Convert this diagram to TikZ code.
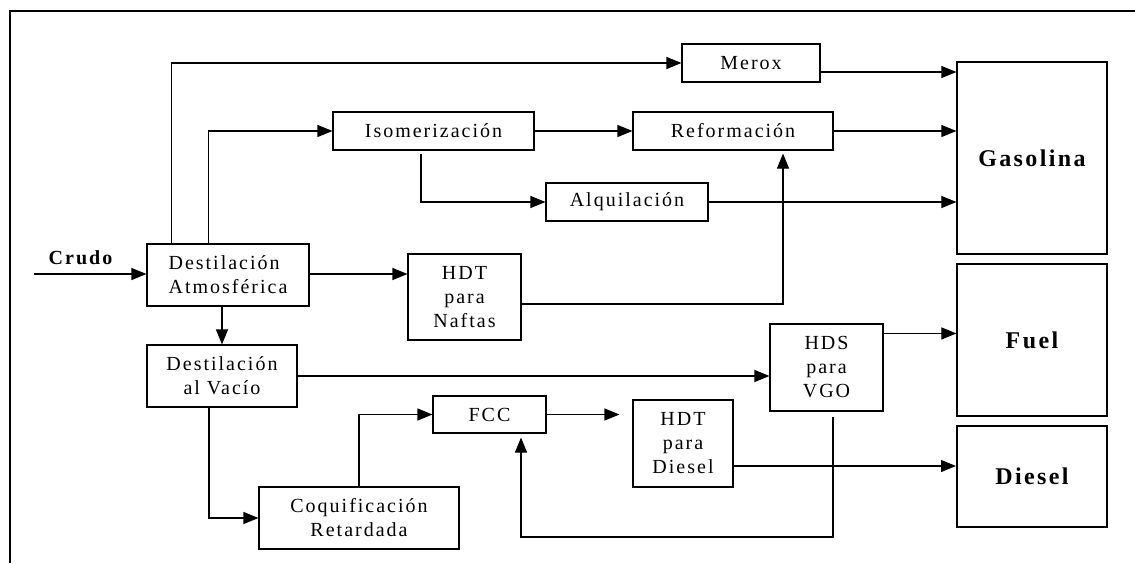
\documentclass[tikz,border=0pt]{standalone}
\usepackage{fontspec}
\setmainfont{Liberation Serif}[LetterSpace=10]
\usetikzlibrary{arrows.meta,calc}

\begin{document}
\begin{tikzpicture}[x=1pt,y=-1pt,
  box/.style={draw, line width=1.1pt, inner sep=0pt, align=center,
    font=\fontsize{20}{24}\selectfont},
  prod/.style={draw, line width=1.2pt, inner sep=0pt, minimum width=150pt,
    font=\fontsize{24}{28}\selectfont\bfseries},
  flow/.style={line width=1.1pt, -{Triangle[length=15pt,width=12pt]}},
  plain/.style={line width=1.1pt}]
\useasboundingbox (0,0) rectangle (1135,563);

% frame
\draw[line width=1.4pt] (10,563) -- (10,11) -- (1135,11);

% process units
\node[box, minimum width=138pt, minimum height=38pt] (merox) at (751,63) {Merox};
\node[box, minimum width=201pt, minimum height=38pt] (iso) at (433.5,131) {Isomerización};
\node[box, minimum width=200pt, minimum height=38pt] (ref) at (733,131) {Reformación};
\node[box, minimum width=162pt, minimum height=38pt] (alq) at (627,202) {Alquilación};
\node[box, align=left, minimum width=162pt, minimum height=62pt] (da) at (228,275) {Destilación\\Atmosférica};
\node[box, minimum width=113pt, minimum height=86pt] (hdtn) at (464.5,297) {HDT\\para\\Naftas};
\node[box, minimum width=150pt, minimum height=62pt] (dv) at (222,376) {Destilación\\al Vacío};
\node[box, minimum width=113pt, minimum height=87pt] (hds) at (826.5,367.5) {HDS\\para\\VGO};
\node[box, minimum width=113pt, minimum height=37pt] (fcc) at (489.5,414.5) {FCC};
\node[box, minimum width=100pt, minimum height=87pt] (hdtd) at (683,443.5) {HDT\\para\\Diesel};
\node[box, minimum width=200pt, minimum height=62pt] (coq) at (359,518) {Coquificación\\Retardada};

% products
\node[prod, minimum height=192pt] (gas) at (1032,158) {Gasolina};
\node[prod, minimum height=152pt] (fuel) at (1032,340) {Fuel};
\node[prod, line width=2pt, minimum height=101pt] (dsl) at (1032,476.5) {Diesel};

% feed
\coordinate (feed) at (34,274);
\node[anchor=base, font=\fontsize{20}{24}\selectfont\bfseries] (crudo) at (80.5,264) {Crudo};
\draw[flow] (feed) -- (feed -| da.west);

% atmospheric distillation outlets
\draw[flow] ([xshift=25pt]da.north west) |- (merox.west);
\draw[flow] ([xshift=62pt]da.north west) |- (iso.west);
\draw[flow] (da.east |- feed) -- (feed -| hdtn.west);
\draw[flow] (dv.north |- da.south) -- (dv.north);

% gasoline train
\draw[flow] (iso.east) -- (ref.west);
\draw[flow, shorten <=3pt] ([xshift=-12.5pt]iso.south) |- (alq.west);
\draw[flow] ([yshift=-9pt]merox.east) -- ([yshift=-9pt]merox.east -| gas.west);
\draw[flow] (ref.east) -- (ref.east -| gas.west);
\draw[flow] (alq.east) -- (alq.east -| gas.west);
\draw[flow, shorten >=3pt] ([yshift=-7pt]hdtn.east) -| ([xshift=50pt]ref.south);

% vacuum distillation and heavy ends
\draw[flow] (dv.east) -- (dv.east -| hds.west);
\draw[flow] ([yshift=-10pt]hds.north east) -- ([yshift=-10pt]hds.north east -| fuel.west);
\draw[flow] ([xshift=-13pt]dv.south) |- (coq.west);
\draw[flow] (coq.north) |- (fcc.west);
\draw[flow, shorten >=13pt] (fcc.east) -- (fcc.east -| hdtd.west);
\draw[flow] ([yshift=-22.5pt]hdtd.east) -- ([yshift=-22.5pt]hdtd.east -| dsl.west);

% VGO recycle to FCC
\coordinate (ret) at (833,537);
\draw[flow, shorten <=5pt, shorten >=4pt] (ret |- hds.south) -- (ret) -| ([xshift=31.5pt]fcc.south);
\end{tikzpicture}
\end{document}
